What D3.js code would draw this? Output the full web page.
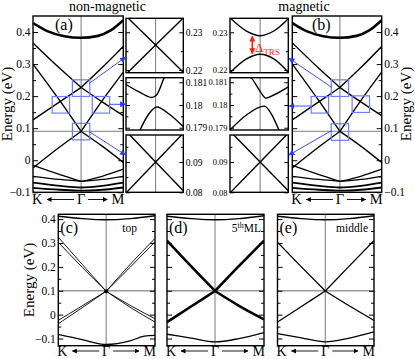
<!DOCTYPE html>
<html>
<head>
<meta charset="utf-8">
<script src="https://cdn.jsdelivr.net/npm/d3@7"></script>
<style>
body { margin: 0; background: #fff; }
svg { display: block; font-family: "Liberation Serif", "Times New Roman", serif; }
</style>
</head>
<body>
<svg id="fig" width="415" height="359" font-family="Liberation Serif, Times New Roman, serif"></svg>
<script>
// ---------- data (k: K < 0 < M, Γ at 0; energies in eV) ----------
// top row main panels (a) and (b)
const kMain = [-1.14, 1.0];
const eMain = [-0.1, 0.45];
const eMainMajor = [-0.1, 0, 0.1, 0.2, 0.3, 0.4];
const eMainMinor = [-0.05, 0.05, 0.15, 0.25, 0.35];
const eFermiMain = 0.09;
const mainCond = [[-1.14, 0.428], [-0.8, 0.403], [-0.4, 0.387], [0, 0.382], [0.4, 0.388], [0.7, 0.405], [1.0, 0.437]];
const mainHiUp = [[-1.14, 0.366], [-0.5, 0.286], [0, 0.227], [0.5, 0.289], [1.0, 0.355]];
const mainHiDown = [[-1.14, 0.126], [-0.5, 0.183], [0, 0.227], [0.5, 0.182], [1.0, 0.139]];
const mainLoUp = [[-1.14, 0.30], [-0.5, 0.185], [0, 0.09], [0.5, 0.186], [1.0, 0.275]];
const mainLoDown = [[-1.14, -0.024], [-0.5, 0.042], [0, 0.09], [0.5, 0.044], [1.0, -0.007]];
const mainVal1 = [[-1.14, -0.016], [-0.5, -0.045], [0, -0.066], [0.5, -0.05], [1.0, -0.028]];
const mainVal2 = [[-1.14, -0.05], [-0.5, -0.06], [0, -0.066], [0.5, -0.06], [1.0, -0.05]];
const mainVal3 = [[-1.14, -0.07], [-0.5, -0.08], [0, -0.085], [0.5, -0.08], [1.0, -0.07]];
const mainVal4 = [[-1.14, -0.086], [-0.5, -0.092], [0, -0.095], [0.5, -0.092], [1.0, -0.085]];

// zoomed insets
const kInset = [-1.07, 1.0];
const eInsetHi = [0.2193, 0.2337];
const eInsetHiMajor = [0.22, 0.23];
const eInsetHiMinor = [0.225];
const eInsetMid = [0.1789, 0.1812];
const eInsetMidMajor = [0.179, 0.18, 0.181];
const eInsetMidMinor = [0.1795, 0.1805];
const eInsetLo = [0.08, 0.0989];
const eInsetLoMajor = [0.08, 0.09];
const eInsetLoMinor = [0.085, 0.095];

const nmHiA = [[-1.07, 0.2343], [0, 0.2266], [1.0, 0.2194]];
const nmHiB = [[-1.07, 0.2189], [0, 0.2266], [1.0, 0.2338]];
const nmMidUpper = [[-1.07, 0.1809], [-0.56, 0.18055], [-0.14, 0.18033], [0.04, 0.18045], [0.3, 0.18117], [0.4, 0.1814]];
const nmMidLower = [[-0.6, 0.1788], [-0.26, 0.17958], [0.04, 0.17991], [0.51, 0.17958], [1.0, 0.17904]];
const nmLoA = [[-1.07, 0.1002], [0, 0.09], [1.0, 0.0805]];
const nmLoB = [[-1.07, 0.0798], [0, 0.09], [1.0, 0.0995]];

const mHiUpper = [[-1.07, 0.2338], [-0.5, 0.2304], [0, 0.2291], [0.5, 0.2304], [1.0, 0.2336]];
const mHiLower = [[-1.07, 0.2193], [-0.5, 0.2229], [0, 0.2242], [0.5, 0.2229], [1.0, 0.2194]];
const mMidUpper = [[-0.42, 0.1813], [-0.3, 0.18117], [0, 0.1806], [0.21, 0.1803], [0.5, 0.18045], [1.0, 0.1808]];
const mMidLower = [[-1.07, 0.1789], [-0.5, 0.17955], [0.15, 0.17995], [0.4, 0.1796], [0.7, 0.1788]];
const mLoA = nmLoA;
const mLoB = nmLoB;

// bottom row (c) top, (d) 5th ML, (e) middle
const kBot = [-1.0, 1.02];
const eBot = [-0.13, 0.42];
const eBotMajor = [-0.1, 0, 0.1, 0.2, 0.3, 0.4];
const eBotMinor = [-0.05, 0.05, 0.15, 0.25, 0.35];
const eFermiBot = 0.1;
const botCond = [[-1.0, 0.412], [-0.5, 0.402], [0, 0.397], [0.5, 0.402], [1.02, 0.414]];
const topUpA = [[-1.0, 0.324], [-0.5, 0.21], [0, 0.098], [0.5, 0.21], [1.02, 0.319]];
const topUpB = [[-1.0, 0.303], [-0.5, 0.198], [0, 0.098], [0.5, 0.198], [1.02, 0.305]];
const topDnA = [[-1.0, -0.024], [-0.5, 0.037], [0, 0.098], [0.5, 0.039], [1.02, -0.017]];
const topDnB = [[-1.0, -0.038], [-0.5, 0.029], [0, 0.098], [0.5, 0.031], [1.02, -0.031]];
const topVal = [[-1.0, -0.083], [-0.5, -0.105], [0, -0.125], [0.5, -0.11], [0.8, -0.09], [1.02, -0.087]];
const mlUp = [[-1.0, 0.31], [-0.5, 0.203], [0, 0.099], [0.5, 0.204], [1.02, 0.31]];
const mlDn = [[-1.0, -0.031], [-0.5, 0.034], [0, 0.099], [0.5, 0.037], [1.02, -0.02]];
const mlVal = [[-1.0, -0.082], [-0.5, -0.098], [0, -0.114], [0.5, -0.1], [1.02, -0.075]];
const midUp = [[-1.0, 0.303], [-0.5, 0.2], [0, 0.099], [0.5, 0.203], [1.02, 0.31]];
const midDn = [[-1.0, -0.031], [-0.5, 0.034], [0, 0.099], [0.5, 0.037], [1.02, -0.024]];
const midVal = [[-1.0, -0.079], [-0.5, -0.097], [0, -0.114], [0.5, -0.098], [1.02, -0.072]];

// ---------- helpers ----------
const SERIF = '"Liberation Serif", "Times New Roman", serif';
const svg = d3.select('#fig');
const defs = svg.append('defs');
let clipCount = 0;

function arrowMarker(id, color, size) {
  defs.append('marker')
    .attr('id', id)
    .attr('viewBox', '0 0 10 10')
    .attr('refX', 9).attr('refY', 5)
    .attr('markerWidth', size).attr('markerHeight', size)
    .attr('markerUnits', 'userSpaceOnUse')
    .attr('orient', 'auto-start-reverse')
    .append('path')
    .attr('d', 'M0,0 L10,5 L0,10 z')
    .attr('fill', color);
}
arrowMarker('blueHead', '#2a3cff', 6);
arrowMarker('redHead', '#ff1a1a', 6);
arrowMarker('blackHead', '#000', 5);

function makePanel(box, kDom, eDom) {
  const x = d3.scaleLinear().domain(kDom).range([box.x0, box.x1]);
  const y = d3.scaleLinear().domain(eDom).range([box.y1, box.y0]);
  const id = 'clip' + (clipCount++);
  defs.append('clipPath').attr('id', id).append('rect')
    .attr('x', box.x0).attr('y', box.y0)
    .attr('width', box.x1 - box.x0).attr('height', box.y1 - box.y0);
  const g = svg.append('g');
  const inner = g.append('g').attr('clip-path', `url(#${id})`);
  return { x, y, g, inner, box };
}

function guides(p, eF) {
  p.inner.append('line')
    .attr('x1', p.x(0)).attr('x2', p.x(0))
    .attr('y1', p.box.y0).attr('y2', p.box.y1)
    .attr('stroke', '#7a7a7a').attr('stroke-width', 1);
  if (eF != null) {
    p.inner.append('line')
      .attr('x1', p.box.x0).attr('x2', p.box.x1)
      .attr('y1', p.y(eF)).attr('y2', p.y(eF))
      .attr('stroke', '#999').attr('stroke-width', 1.3);
  }
}

function band(p, pts, w) {
  const line = d3.line().x(d => p.x(d[0])).y(d => p.y(d[1])).curve(d3.curveMonotoneX);
  p.inner.append('path').datum(pts)
    .attr('d', line)
    .attr('fill', 'none').attr('stroke', '#000')
    .attr('stroke-width', w).attr('stroke-linejoin', 'round');
}

// split at Γ so that the Dirac point stays sharp
function cone(p, pts, w) {
  const i = pts.findIndex(d => d[0] === 0);
  band(p, pts.slice(0, i + 1), w);
  band(p, pts.slice(i), w);
}

function frame(p) {
  p.g.append('rect')
    .attr('x', p.box.x0).attr('y', p.box.y0)
    .attr('width', p.box.x1 - p.box.x0).attr('height', p.box.y1 - p.box.y0)
    .attr('fill', 'none').attr('stroke', '#000').attr('stroke-width', 1.4);
}

// ticks on both sides, pointing inwards; labels on one side (or none)
function yTicks(p, major, minor, labelSide, fmt, fontSize, len) {
  const sides = [['left', p.box.x0], ['right', p.box.x1]];
  sides.forEach(([side, xPos]) => {
    const mk = side === 'left' ? d3.axisLeft : d3.axisRight;
    const showLabels = side === labelSide;
    const ax = mk(p.y).tickValues(major).tickSizeInner(-len).tickSizeOuter(0).tickPadding(2.5)
      .tickFormat(showLabels ? fmt : () => '');
    const g = p.g.append('g').attr('transform', `translate(${xPos},0)`).call(ax);
    g.select('.domain').remove();
    g.attr('font-family', SERIF).attr('font-size', fontSize);
    g.selectAll('line').attr('stroke', '#000').attr('stroke-width', 1);
    g.selectAll('text').attr('fill', '#000');
    if (!showLabels) g.selectAll('text').remove();
    const axm = mk(p.y).tickValues(minor).tickSizeInner(-len * 0.6).tickSizeOuter(0).tickFormat(() => '');
    const gm = p.g.append('g').attr('transform', `translate(${xPos},0)`).call(axm);
    gm.select('.domain').remove();
    gm.selectAll('text').remove();
    gm.selectAll('line').attr('stroke', '#000').attr('stroke-width', 1);
  });
}

function kLabels(p, yBase, fs) {
  const gx = p.x(0), x0 = p.box.x0, x1 = p.box.x1;
  const t = p.g.append('g').attr('font-size', fs).attr('fill', '#000');
  t.append('text').attr('x', x0 - 1).attr('y', yBase).text('K');
  t.append('text').attr('x', gx).attr('y', yBase).attr('text-anchor', 'middle').text('Γ');
  t.append('text').attr('x', x1 + 1).attr('y', yBase).attr('text-anchor', 'end').text('M');
  const ay = yBase - 4.5;
  p.g.append('line').attr('x1', gx - 7).attr('x2', x0 + 14).attr('y1', ay).attr('y2', ay)
    .attr('stroke', '#000').attr('stroke-width', 0.9).attr('marker-end', 'url(#blackHead)');
  p.g.append('line').attr('x1', gx + 7).attr('x2', x1 - 16).attr('y1', ay).attr('y2', ay)
    .attr('stroke', '#000').attr('stroke-width', 0.9).attr('marker-end', 'url(#blackHead)');
}

function energyLabel(x, y) {
  svg.append('text')
    .attr('transform', `translate(${x},${y}) rotate(-90)`)
    .attr('text-anchor', 'middle')
    .attr('font-size', 15).text('Energy (eV)');
}

const fmtMain = d => (d === 0 ? '0' : d3.format('.1f')(d));
const fmtInset = d => String(+d.toFixed(3));

// ---------- main panels (a) and (b) ----------
function mainPanel(box, labelSide, tag, tagX) {
  const p = makePanel(box, kMain, eMain);
  guides(p, eFermiMain);
  band(p, mainCond, 2.6);
  [mainHiUp, mainHiDown, mainLoUp, mainLoDown].forEach(b => cone(p, b, 1.4));
  [mainVal1, mainVal2].forEach(b => cone(p, b, 1.3));
  [mainVal3, mainVal4].forEach(b => band(p, b, 1.8));
  frame(p);
  yTicks(p, eMainMajor, eMainMinor, labelSide, fmtMain, 11.5, 5);
  kLabels(p, 204, 14.5);
  p.g.append('text').attr('x', tagX).attr('y', 30).attr('font-size', 16).text(tag);
  return p;
}

const pa = mainPanel({ x0: 33, x1: 123.3, y0: 16, y1: 192.3 }, 'left', '(a)', 55);
const pb = mainPanel({ x0: 292.3, x1: 381.7, y0: 16, y1: 192.3 }, 'right', '(b)', 312);

// zoom boxes [k, E] centres on main panels
const boxCentresA = [[0, 0.225], [0, 0.0895], [-0.48, 0.173], [0.47, 0.173]];
const boxCentresB = [[0, 0.225], [0, 0.088], [-0.48, 0.173], [0.5, 0.175]];
function zoomBoxes(p, centres) {
  centres.forEach(c => {
    p.g.append('rect')
      .attr('x', p.x(c[0]) - 8.7).attr('y', p.y(c[1]) - 8.3)
      .attr('width', 17.4).attr('height', 16.6)
      .attr('fill', 'none').attr('stroke', '#6f7cff').attr('stroke-width', 1.2);
  });
}
zoomBoxes(pa, boxCentresA);
zoomBoxes(pb, boxCentresB);

// ---------- insets ----------
function insetPanel(box, eDom, major, minor, labelSide, bands, fs) {
  const p = makePanel(box, kInset, eDom);
  guides(p, null);
  bands.forEach(b => band(p, b, 1.4));
  frame(p);
  yTicks(p, major, minor, labelSide, fmtInset, fs, 4);
  return p;
}
const insetRows = [{ y0: 18.3, y1: 72.7 }, { y0: 77.7, y1: 130 }, { y0: 135, y1: 192.3 }];
const ia = [
  insetPanel({ x0: 126, x1: 183.3, ...insetRows[0] }, eInsetHi, eInsetHiMajor, eInsetHiMinor, 'right', [nmHiA, nmHiB], 9.5),
  insetPanel({ x0: 126, x1: 183.3, ...insetRows[1] }, eInsetMid, eInsetMidMajor, eInsetMidMinor, 'right', [nmMidUpper, nmMidLower], 9.5),
  insetPanel({ x0: 126, x1: 183.3, ...insetRows[2] }, eInsetLo, eInsetLoMajor, eInsetLoMinor, 'right', [nmLoA, nmLoB], 9.5)
];
const ib = [
  insetPanel({ x0: 230, x1: 288.3, ...insetRows[0] }, eInsetHi, eInsetHiMajor, eInsetHiMinor, 'left', [mHiUpper, mHiLower], 8.5),
  insetPanel({ x0: 230, x1: 288.3, ...insetRows[1] }, eInsetMid, eInsetMidMajor, eInsetMidMinor, 'left', [mMidUpper, mMidLower], 8.5),
  insetPanel({ x0: 230, x1: 288.3, ...insetRows[2] }, eInsetLo, eInsetLoMajor, eInsetLoMinor, 'left', [mLoA, mLoB], 8.5)
];

// blue pointer arrows from zoom boxes to insets
const pointerArrows = [
  [89.3, 83.3, 125.5, 57.3], [109.3, 104.3, 125.5, 104.3], [89.3, 131.7, 125.5, 155],
  [331.7, 87.3, 289, 58.3], [311, 106, 289, 106], [331.7, 130.5, 289, 155]
];
pointerArrows.forEach(a => {
  svg.append('line').attr('x1', a[0]).attr('y1', a[1]).attr('x2', a[2]).attr('y2', a[3])
    .attr('stroke', '#2a3cff').attr('stroke-width', 0.9).attr('marker-end', 'url(#blueHead)');
});

// Δ_TRS gap marker in magnetic inset
const gapTop = ib[0].y(0.2291), gapBot = ib[0].y(0.2242);
svg.append('line').attr('x1', 252.3).attr('x2', 252.3).attr('y1', gapTop + 0.5).attr('y2', gapBot - 0.5)
  .attr('stroke', '#ff1a1a').attr('stroke-width', 1.6)
  .attr('marker-start', 'url(#redHead)').attr('marker-end', 'url(#redHead)');
const dT = svg.append('text').attr('x', 255).attr('y', 52).attr('fill', '#ff1a1a').attr('font-size', 13);
dT.append('tspan').text('Δ');
dT.append('tspan').attr('dy', 3).attr('font-size', 9).text('TRS');

// titles and energy labels, top row
svg.append('text').attr('x', 107.5).attr('y', 11).attr('text-anchor', 'middle').attr('font-size', 14).text('non-magnetic');
svg.append('text').attr('x', 304).attr('y', 11).attr('text-anchor', 'middle').attr('font-size', 14).text('magnetic');
energyLabel(12, 104);
energyLabel(411, 104);

// ---------- bottom row ----------
function botPanel(box, tag, name, nameX, draw) {
  const p = makePanel(box, kBot, eBot);
  guides(p, eFermiBot);
  band(p, botCond, 1.4);
  draw(p);
  frame(p);
  yTicks(p, eBotMajor, eBotMinor, tag === '(c)' ? 'left' : null, fmtMain, 11.5, 5);
  kLabels(p, 355.5, 14);
  p.g.append('text').attr('x', box.x0 + 2).attr('y', 233).attr('font-size', 16).text(tag);
  p.g.append('text').attr('x', nameX).attr('y', 232).attr('text-anchor', 'end').attr('font-size', 11.5).html(name);
  return p;
}

botPanel({ x0: 58.3, x1: 155, y0: 214.3, y1: 345.7 }, '(c)', 'top', 137, p => {
  [topUpA, topUpB, topDnA, topDnB].forEach(b => cone(p, b, 0.9));
  band(p, topVal, 1.3);
  p.inner.append('circle').attr('cx', p.x(0)).attr('cy', p.y(0.098)).attr('r', 2).attr('fill', '#000');
});
botPanel({ x0: 167, x1: 264, y0: 214.3, y1: 345.7 }, '(d)', '5<tspan dy="-4" font-size="8">th</tspan><tspan dy="4">ML</tspan>', 261, p => {
  [mlUp, mlDn].forEach(b => cone(p, b, 2.6));
  band(p, mlVal, 1.3);
});
botPanel({ x0: 277.5, x1: 374, y0: 214.3, y1: 345.7 }, '(e)', 'middle', 368, p => {
  [midUp, midDn].forEach(b => cone(p, b, 1.3));
  band(p, midVal, 1.3);
});
energyLabel(34, 280);
</script>
</body>
</html>
